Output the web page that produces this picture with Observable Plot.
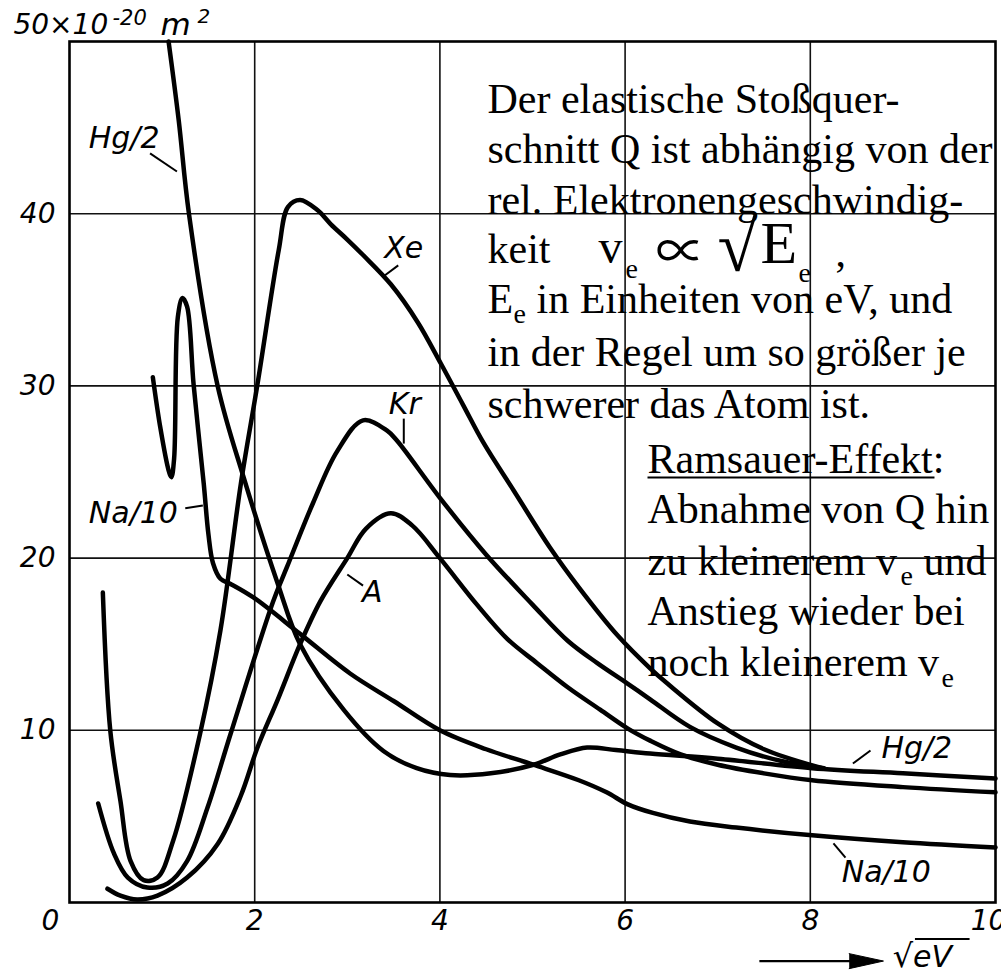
<!DOCTYPE html>
<html>
<head>
<meta charset="utf-8">
<script src="https://cdn.jsdelivr.net/npm/d3@7"></script>
<script src="https://cdn.jsdelivr.net/npm/@observablehq/plot@0.6"></script>
<style>
  body { margin: 0; background: #fff; }
  g[aria-label="curve-label"] text { letter-spacing: 3px; }
</style>
</head>
<body>
<div id="chart"></div>
<script>
// Elastic collision cross-section Q (10^-20 m²) against √(E/eV)
const xeV = [0.36,0.44,0.55,0.66,0.80,0.95,1.12,1.41,1.63,1.85,2.03,2.26,2.36,2.49,2.68,2.82,3.0,3.17,3.47,3.76,4.01,4.25,4.47,4.8,5.19,5.5,5.92,6.27,6.46,7.0,7.5,8.13];
const xeQ = [18.0,10.0,5.9,2.4,1.3,1.45,3.6,9.8,15.8,24.3,30.1,37.9,40.4,40.8,40.2,39.4,38.5,37.6,35.9,33.7,31.3,28.9,26.7,23.9,20.6,18.3,15.5,13.6,12.7,10.4,8.9,7.8];

const krV = [0.31,0.48,0.63,0.84,1.06,1.27,1.49,1.74,2.2,2.35,2.63,2.89,3.17,3.43,3.54,4.0,4.5,5.0,5.38,5.7,6.03,6.27,6.7,7.2,7.7,8.15];
const krQ = [5.75,2.85,1.45,0.87,1.1,2.4,5.5,9.8,17.5,19.5,23.2,26.2,28.0,27.4,26.8,23.5,20.2,17.3,15.2,13.9,12.7,11.8,10.2,9.0,8.2,7.8];

const arV = [0.41,0.55,0.73,0.95,1.27,1.60,1.85,2.03,2.25,2.49,2.71,3.0,3.2,3.47,3.7,4.0,4.4,4.73,5.05,5.38,5.73,6.03,6.27,6.6,7.0,7.5,8.02,9.0,10];
const arQ = [0.8,0.4,0.17,0.4,1.45,3.4,6.2,9.0,11.8,15.0,17.5,20.0,21.7,22.6,21.9,20.0,17.3,15.3,13.9,12.5,11.2,10.1,9.4,8.6,8.0,7.5,7.1,6.7,6.4];

const hgV = [1.07,1.18,1.29,1.60,1.88,2.25,2.49,2.96,3.39,3.75,4.11,4.55,5.01,5.3,5.59,5.9,6.27,7.0,8.02,9.0,10];
const hgQ = [50,45.4,40,30,24.7,18.5,15.0,11.2,8.8,7.8,7.4,7.5,8.0,8.6,9.0,8.85,8.65,8.35,7.8,7.5,7.2];

const naV = [0.90,0.98,1.07,1.10,1.13,1.17,1.22,1.27,1.34,1.45,1.50,1.55,1.63,1.74,1.99,2.49,3.03,3.5,4.0,4.5,5.01,5.5,5.8,6.03,6.3,6.7,7.2,8.02,9.0,10];
const naQ = [30.5,27.6,25.1,24.7,25.8,34.0,35.1,34.6,30.1,24.3,21.4,19.7,18.8,18.5,17.7,15.6,13.3,11.7,10.0,8.9,8.0,7.1,6.4,5.7,5.2,4.7,4.35,3.9,3.5,3.2];

const xTicks = [2, 4, 6, 8];
const xLastTick = [10];
const yTicks = [10, 20, 30, 40];
const xGrid = [2, 4, 6, 8];
const yGrid = [10, 20, 30, 40];

const series = [
  {name: "Xe", v: xeV, q: xeQ},
  {name: "Kr", v: krV, q: krQ},
  {name: "A", v: arV, q: arQ},
  {name: "Hg/2", v: hgV, q: hgQ},
  {name: "Na/10", v: naV, q: naQ}
];
const rows = series.flatMap(s => s.v.map((v, i) => ({series: s.name, v, q: s.q[i]})));

const serif = "Liberation Serif, Times New Roman, serif";
const sans = "DejaVu Sans, Verdana, sans-serif";
const italicSans = {fontFamily: sans, fontStyle: "italic"};

// curve names with their leader strokes
const curveLabels = [
  {x: 0.59, y: 44.4, t: "Hg/2"},
  {x: 3.61, y: 38.0, t: "Xe"},
  {x: 3.62, y: 28.9, t: "Kr"},
  {x: 0.69, y: 22.6, t: "Na/10"},
  {x: 3.27, y: 18.0, t: "A"},
  {x: 9.15, y: 8.94, t: "Hg/2"},
  {x: 8.82, y: 1.74, t: "Na/10"}
];
const leaders = [
  {x1: 0.87, y1: 43.5, x2: 1.16, y2: 42.45},
  {x1: 3.40, y1: 36.4, x2: 3.55, y2: 37.0},
  {x1: 3.61, y1: 28.1, x2: 3.61, y2: 26.65},
  {x1: 1.25, y1: 22.9, x2: 1.44, y2: 23.05},
  {x1: 3.00, y1: 19.05, x2: 3.17, y2: 18.4},
  {x1: 8.46, y1: 8.07, x2: 8.65, y2: 8.83},
  {x1: 8.25, y1: 3.43, x2: 8.38, y2: 2.61}
];

// explanatory note, run by run (baselines in data units)
const note = [
  {x: 4.514, y: 45.82, t: "Der elastische Stoßquer-", s: 42},
  {x: 4.514, y: 42.92, t: "schnitt Q ist abhängig von der", s: 42},
  {x: 4.514, y: 40.01, t: "rel. Elektronengeschwindig-", s: 42},
  {x: 4.514, y: 37.11, t: "keit", s: 42},
  {x: 5.713, y: 37.11, t: "v", s: 48},
  {x: 6.004, y: 36.24, t: "e", s: 28},
  {x: 6.998, y: 36.70, t: "√", s: 72},
  {x: 7.462, y: 37.11, t: "E", s: 60},
  {x: 7.873, y: 36.06, t: "e", s: 28},
  {x: 8.272, y: 36.99, t: ",", s: 42},
  {x: 4.514, y: 34.26, t: "E", s: 42},
  {x: 4.795, y: 33.68, t: "e", s: 28},
  {x: 5.043, y: 34.26, t: "in Einheiten von eV, und", s: 42},
  {x: 4.514, y: 31.18, t: "in der Regel um so größer je", s: 42},
  {x: 4.514, y: 28.11, t: "schwerer das Atom ist.", s: 42},
  {x: 6.242, y: 24.97, t: "Ramsauer-Effekt:", s: 42},
  {x: 6.242, y: 22.01, t: "Abnahme von Q hin", s: 42},
  {x: 6.242, y: 18.99, t: "zu kleinerem v", s: 42},
  {x: 8.974, y: 18.41, t: "e", s: 28},
  {x: 9.222, y: 18.99, t: "und", s: 42},
  {x: 6.242, y: 16.09, t: "Anstieg wieder bei", s: 42},
  {x: 6.242, y: 13.18, t: "noch kleinerem v", s: 42},
  {x: 9.417, y: 12.49, t: "e", s: 28}
];

// unit of the vertical axis, written at its top
const unitRuns = [
  {x: -0.605, y: 50.41, t: "50×10", s: 28},
  {x: 0.464, y: 50.93, t: "-20", s: 21},
  {x: 0.983, y: 50.35, t: "m", s: 31},
  {x: 1.382, y: 51.05, t: "2", s: 20}
];

const chart = Plot.plot({
  width: 1001,
  height: 974,
  marginLeft: 69,
  marginRight: 6,
  marginTop: 41,
  marginBottom: 72,
  x: {domain: [0, 10], axis: null},
  y: {domain: [0, 50], axis: null},
  marks: [
    Plot.ruleX(xGrid, {stroke: "#111", strokeWidth: 1.6}),
    Plot.ruleY(yGrid, {stroke: "#111", strokeWidth: 1.6}),
    Plot.frame({stroke: "#000", strokeWidth: 2.6}),
    Plot.line(rows, {
      x: "v", y: "q", z: "series",
      curve: "catmull-rom",
      stroke: "#000", strokeWidth: 4.5,
      strokeLinejoin: "round", strokeLinecap: "round"
    }),
    // tick labels
    Plot.text(yTicks, {x: () => 0, y: d => d, text: d => `${d}`, dx: -14, textAnchor: "end", fontSize: 28, ...italicSans}),
    Plot.text(xTicks, {x: d => d, y: () => 0, text: d => `${d}`, dy: 19, fontSize: 28, ...italicSans}),
    Plot.text(xLastTick, {x: d => d, y: () => 0, text: d => `${d}`, dx: -7, dy: 19, fontSize: 28, ...italicSans}),
    Plot.text([0], {x: () => 0, y: () => 0, text: () => "0", dx: -19, dy: 19, fontSize: 28, ...italicSans}),
    Plot.text(unitRuns, {x: "x", y: "y", text: "t", fontSize: "s", textAnchor: "start", lineAnchor: "bottom", ...italicSans}),
    // horizontal axis quantity with arrow
    Plot.link([0], {x1: () => 7.45, x2: () => 8.45, y1: () => -3.4, y2: () => -3.4, stroke: "#000", strokeWidth: 2.2}),
    Plot.line([{x: 8.42, y: -2.97}, {x: 8.79, y: -3.4}, {x: 8.42, y: -3.84}], {x: "x", y: "y", fill: "#000", stroke: "#000", strokeWidth: 1}),
    Plot.text([0], {x: () => 8.89, y: () => -3.72, text: () => "√", fontSize: 32, textAnchor: "start", lineAnchor: "bottom", ...italicSans}),
    Plot.text([0], {x: () => 9.11, y: () => -3.72, text: () => "eV", fontSize: 30, textAnchor: "start", lineAnchor: "bottom", ...italicSans}),
    Plot.link([0], {x1: () => 9.13, x2: () => 9.72, y1: () => -2.12, y2: () => -2.12, stroke: "#000", strokeWidth: 2.2}),
    // curve names
    Plot.link(leaders, {x1: "x1", y1: "y1", x2: "x2", y2: "y2", stroke: "#000", strokeWidth: 2}),
    Plot.text(curveLabels, {x: "x", y: "y", text: "t", fontSize: 30, ariaLabel: "curve-label", ...italicSans}),
    // note
    Plot.text(note, {x: "x", y: "y", text: "t", fontSize: "s", fontFamily: serif, textAnchor: "start", lineAnchor: "bottom", fill: "#000"}),
    Plot.text([0], {x: () => 6.33, y: () => 36.76, text: () => "∝", fontSize: 50, fontFamily: "Noto Sans CJK JP, Liberation Serif, serif", textAnchor: "start", lineAnchor: "bottom", fill: "#000"}),
    Plot.link([0], {x1: () => 6.242, x2: () => 9.341, y1: () => 24.68, y2: () => 24.68, stroke: "#000", strokeWidth: 2})
  ]
});
document.getElementById("chart").appendChild(chart);
</script>
</body>
</html>
